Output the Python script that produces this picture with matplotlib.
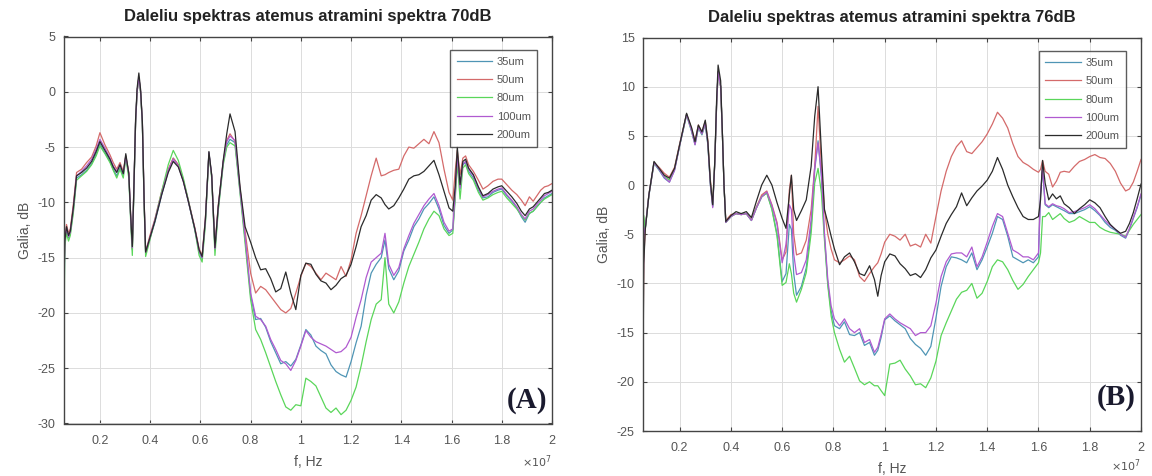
import matplotlib
matplotlib.use("Agg")
import matplotlib.pyplot as plt
from matplotlib.ticker import MultipleLocator, FuncFormatter

plt.rcParams["font.family"] = ["Liberation Sans", "DejaVu Sans"]
plt.rcParams["axes.unicode_minus"] = False

labels = ["35um", "50um", "80um", "100um", "200um"]
colors = ["#4f95b5", "#d46a6a", "#5ad65a", "#b05ad0", "#2b2b2b"]

# ---------------- panel A: 70 dB (frequency in units of 1e7 Hz) ----------------
freq_a = [
    0.055, 0.060, 0.067, 0.075, 0.082, 0.094, 0.107, 0.127, 0.147, 0.167,
    0.185, 0.200, 0.220, 0.240, 0.253, 0.267, 0.280, 0.293, 0.303, 0.315,
    0.322, 0.329, 0.336, 0.342, 0.348, 0.355, 0.362, 0.369, 0.376, 0.382,
    0.399, 0.419, 0.446, 0.472, 0.492, 0.512, 0.532, 0.552, 0.578, 0.595,
    0.607, 0.620, 0.634, 0.645, 0.658, 0.671, 0.691, 0.705, 0.718, 0.738,
    0.758, 0.778, 0.800, 0.820, 0.840, 0.860, 0.880, 0.900, 0.920, 0.940,
    0.960, 0.980, 1.000, 1.020, 1.040, 1.060, 1.080, 1.100, 1.120, 1.140,
    1.160, 1.180, 1.200, 1.220, 1.240, 1.260, 1.280, 1.300, 1.320, 1.335,
    1.350, 1.370, 1.390, 1.410, 1.430, 1.450, 1.470, 1.490, 1.510, 1.530,
    1.550, 1.570, 1.590, 1.605, 1.615, 1.623, 1.634, 1.645, 1.656, 1.668,
    1.687, 1.707, 1.725, 1.745, 1.765, 1.785, 1.800, 1.820, 1.840, 1.860,
    1.878, 1.893, 1.910, 1.925, 1.940, 1.955, 1.970, 1.985, 2.000,
]

a_35 = [
    -25.0, -13.5, -12.5, -13.2, -12.8, -10.8, -7.8, -7.5, -7.1, -6.5,
    -5.6, -4.7, -5.5, -6.3, -7.0, -7.6, -6.9, -7.6, -5.8, -7.5,
    -11.2, -14.3, -8.1, -2.8, 0.0, 1.3, 0.0, -2.9, -10.0, -14.6,
    -13.3, -11.8, -9.3, -7.2, -6.0, -6.6, -8.0, -9.9, -12.5, -14.5,
    -15.1, -11.7, -5.5, -7.6, -14.3, -10.6, -6.4, -4.8, -4.3, -4.6,
    -9.0, -13.3, -18.4, -20.6, -20.5, -21.3, -22.6, -23.6, -24.6, -24.4,
    -24.8, -24.2, -22.9, -21.5, -22.0, -23.0, -23.4, -23.7, -24.7, -25.3,
    -25.6, -25.8, -24.4, -22.7, -21.2, -18.4, -16.4, -15.6, -15.0, -13.4,
    -16.0, -17.0, -16.2, -14.4, -13.4, -12.2, -11.5, -10.6, -10.1, -9.5,
    -10.6, -12.1, -12.8, -12.5, -9.2, -6.0, -8.8, -6.6, -6.4, -7.2,
    -7.8, -8.9, -9.6, -9.5, -9.1, -8.9, -8.8, -9.4, -9.9, -10.5,
    -11.3, -11.8, -11.0, -10.8, -10.4, -10.0, -9.6, -9.4, -9.2,
]
a_50 = [
    -20.0, -13.3, -12.0, -12.8, -12.4, -10.2, -7.3, -7.0, -6.4, -5.9,
    -4.9, -3.7, -4.8, -5.7, -6.4, -7.0, -6.4, -7.2, -5.8, -7.3,
    -11.0, -14.2, -8.0, -2.8, 0.0, 1.3, 0.0, -2.8, -9.8, -14.5,
    -13.0, -11.5, -9.0, -7.0, -6.0, -6.6, -8.0, -9.8, -12.3, -14.2,
    -14.8, -11.4, -5.6, -7.6, -14.0, -10.3, -6.3, -4.4, -3.8, -4.5,
    -8.8, -12.6, -16.4, -18.2, -17.6, -17.9, -18.5, -19.1, -19.7, -20.0,
    -19.6, -18.2, -16.7, -15.5, -15.8, -16.4, -17.0, -16.4, -16.7, -17.0,
    -15.8, -16.7, -15.2, -12.8, -11.2, -9.4, -7.6, -6.0, -7.6, -7.5,
    -7.3, -7.1, -7.0, -5.8, -5.0, -5.1, -4.7, -4.3, -4.7, -3.6,
    -4.6, -7.0, -9.1, -9.8, -7.1, -5.3, -7.5, -6.0, -5.8, -6.6,
    -7.2, -8.0, -8.8, -8.5, -8.1, -7.9, -7.9, -8.4, -8.9, -9.3,
    -9.8, -10.3, -9.5, -9.9, -9.4, -8.9, -8.6, -8.5, -8.3,
]
a_80 = [
    -27.5, -14.0, -12.8, -13.5, -13.0, -11.0, -8.0, -7.6, -7.2, -6.6,
    -5.8, -4.9, -5.6, -6.4, -7.1, -7.8, -7.0, -7.8, -6.0, -7.8,
    -11.5, -14.8, -8.3, -2.9, 0.0, 1.2, -0.1, -3.0, -10.2, -14.9,
    -13.4, -11.6, -9.0, -6.6, -5.3, -6.2, -7.8, -9.8, -12.5, -14.8,
    -15.4, -12.0, -5.6, -7.8, -14.8, -10.8, -6.6, -5.0, -4.6, -4.9,
    -9.2, -13.7, -18.8, -21.5, -22.4, -23.6, -24.9, -26.2, -27.4, -28.5,
    -28.8, -28.3, -28.4, -25.9, -26.2, -26.6, -27.6, -28.6, -29.0, -28.6,
    -29.2, -28.8, -27.9, -26.7, -24.8, -22.6, -20.6, -19.2, -18.8, -15.0,
    -19.2, -20.0, -19.0, -17.3, -15.8, -14.7, -13.6, -12.4, -11.5, -10.8,
    -11.2, -12.4, -13.0, -12.8, -9.6, -6.4, -9.7, -6.9, -6.6, -7.4,
    -8.0, -9.1, -9.8, -9.6, -9.3, -9.1, -9.0, -9.6, -10.1, -10.6,
    -11.2, -11.6, -11.0, -10.8, -10.4, -10.0, -9.7, -9.5, -9.3,
]
a_100 = [
    -22.0, -13.4, -12.3, -13.1, -12.7, -10.6, -7.6, -7.2, -6.7, -6.1,
    -5.2, -4.3, -5.1, -6.0, -6.7, -7.2, -6.6, -7.4, -5.9, -7.4,
    -11.1, -14.1, -8.1, -2.8, 0.0, 1.3, 0.0, -2.8, -9.9, -14.5,
    -13.2, -11.6, -9.2, -7.1, -6.1, -6.7, -8.1, -9.9, -12.4, -14.4,
    -15.0, -11.6, -5.5, -7.6, -14.2, -10.5, -6.3, -4.5, -4.0, -4.4,
    -8.9, -13.1, -18.2, -20.3, -20.6, -21.2, -22.4, -23.3, -24.3, -24.6,
    -25.2, -24.3, -23.0, -21.6, -22.2, -22.6, -22.8, -23.0, -23.3, -23.6,
    -23.5, -23.1, -22.2, -20.4, -18.8, -16.8, -15.4, -15.0, -14.6, -12.8,
    -15.6, -16.6, -15.9, -14.2, -13.0, -11.9, -11.1, -10.3, -9.7, -9.2,
    -10.3, -11.8, -12.6, -12.4, -9.0, -5.8, -8.7, -6.5, -6.3, -7.0,
    -7.6, -8.7, -9.5, -9.3, -9.0, -8.8, -8.7, -9.3, -9.8, -10.4,
    -11.1, -11.5, -10.8, -10.6, -10.2, -9.8, -9.4, -9.2, -9.0,
]
a_200 = [
    -20.0, -13.5, -12.2, -13.0, -12.6, -10.5, -7.6, -7.3, -6.9, -6.3,
    -5.4, -4.5, -5.3, -6.1, -6.8, -7.3, -6.6, -7.4, -5.6, -7.4,
    -11.0, -14.0, -8.0, -2.5, 0.3, 1.7, 0.2, -2.7, -9.8, -14.5,
    -13.2, -11.7, -9.3, -7.3, -6.3, -6.8, -8.1, -9.9, -12.4, -14.3,
    -14.9, -11.5, -5.4, -7.5, -14.1, -10.4, -6.2, -3.8, -2.0, -3.6,
    -8.6, -12.2, -13.6, -15.0, -16.1, -16.0, -16.9, -18.1, -17.8, -16.3,
    -18.2, -19.7, -16.6, -15.5, -15.6, -16.5, -17.1, -17.3, -17.9, -17.5,
    -16.9, -16.6, -15.6, -14.0, -12.2, -11.2, -9.8, -9.3, -9.6, -10.2,
    -10.6, -10.3, -9.6, -8.8, -7.9, -7.6, -7.5, -7.2, -6.7, -6.2,
    -7.5, -9.0, -10.5, -10.8, -8.5, -5.0, -8.4, -6.3, -6.1, -6.9,
    -7.5, -8.6, -9.4, -9.2, -8.8, -8.6, -8.5, -9.0, -9.5, -10.1,
    -10.8, -11.2, -10.6, -10.4, -10.0, -9.6, -9.2, -9.1, -8.9,
]

# ---------------- panel B: 76 dB ----------------
freq_b = [
    0.057, 0.060, 0.066, 0.080, 0.100, 0.120, 0.140, 0.160, 0.180, 0.200,
    0.227, 0.247, 0.260, 0.273, 0.287, 0.300, 0.310, 0.320, 0.329, 0.337,
    0.344, 0.350, 0.360, 0.367, 0.373, 0.380, 0.400, 0.420, 0.440, 0.460,
    0.480, 0.500, 0.520, 0.540, 0.560, 0.580, 0.600, 0.615, 0.628, 0.636,
    0.645, 0.656, 0.675, 0.694, 0.713, 0.727, 0.740, 0.753, 0.765, 0.778,
    0.791, 0.804, 0.824, 0.843, 0.863, 0.882, 0.902, 0.921, 0.941, 0.960,
    0.973, 0.986, 1.000, 1.020, 1.040, 1.060, 1.080, 1.100, 1.120, 1.140,
    1.160, 1.180, 1.200, 1.220, 1.240, 1.260, 1.280, 1.300, 1.320, 1.340,
    1.360, 1.380, 1.400, 1.420, 1.440, 1.460, 1.480, 1.500, 1.520, 1.540,
    1.560, 1.580, 1.600, 1.608, 1.616, 1.626, 1.640, 1.655, 1.670, 1.685,
    1.700, 1.720, 1.740, 1.760, 1.780, 1.800, 1.820, 1.840, 1.860, 1.880,
    1.900, 1.920, 1.940, 1.955, 1.970, 1.985, 2.000,
]

b_35 = [
    -12.0, -4.0, -4.4, -1.1, 2.2, 1.5, 0.7, 0.3, 1.5, 4.0,
    7.1, 5.4, 4.1, 5.8, 5.1, 6.2, 4.1, 0.0, -2.2, 2.2,
    8.0, 11.5, 10.0, 5.0, 0.0, -3.8, -3.2, -2.9, -3.0, -2.9,
    -3.6, -2.3, -1.2, -0.8, -2.4, -5.0, -9.8, -9.0, -4.0, -4.5,
    -9.0, -11.2, -10.3, -8.4, -4.2, 1.5, 4.5, 0.8, -5.2, -10.0,
    -12.8, -14.3, -14.6, -13.9, -15.2, -15.3, -15.0, -16.3, -16.0, -17.3,
    -16.8, -15.5, -13.7, -13.3, -13.8, -14.2, -14.6, -15.6, -16.2, -16.6,
    -17.3, -16.4, -13.5, -10.3, -8.3, -7.3, -7.4, -7.6, -7.9, -6.9,
    -8.6, -7.6, -6.3, -4.9, -3.2, -3.5, -5.2, -7.3, -7.6, -7.9,
    -7.6, -7.9, -7.3, -1.0, 1.5, -2.0, -2.3, -2.0, -2.2, -2.4,
    -2.6, -2.9, -2.9, -2.7, -2.5, -2.2, -2.6, -3.1, -3.8, -4.3,
    -4.6, -5.1, -5.4, -4.5, -3.4, -2.3, -1.0,
]
b_50 = [
    -17.0, -7.5, -4.3, -1.0, 2.3, 1.8, 1.2, 0.8, 1.8, 4.2,
    7.2, 5.7, 4.5, 6.1, 5.4, 6.5, 4.6, 0.5, -1.8, 2.2,
    8.0, 11.5, 10.0, 5.0, 0.0, -3.6, -3.0, -2.9, -3.0, -2.9,
    -3.5, -2.2, -1.0, -0.6, -2.0, -3.8, -7.6, -6.8, -0.5, 1.0,
    -5.0, -7.1, -6.9, -5.6, -2.5, 1.9, 8.0, 1.9, -2.5, -5.0,
    -6.5, -7.6, -7.9, -7.6, -7.2, -7.6, -9.3, -9.8, -9.0, -8.3,
    -7.9, -7.0, -5.8, -5.0, -5.2, -5.6, -5.0, -6.2, -6.0, -6.3,
    -5.0, -5.9, -3.2, -0.6, 1.4, 2.9, 3.9, 4.5, 3.4, 3.2,
    3.8, 4.4, 5.2, 6.2, 7.4, 6.8, 5.8, 4.2, 2.9, 2.3,
    2.0, 1.6, 1.3, 1.6, 2.5, 1.4, 1.1, -0.2, 0.4, 1.3,
    1.4, 1.3, 1.9, 2.4, 2.6, 2.9, 3.1, 2.8, 2.7, 2.2,
    1.4, 0.2, -0.6, -0.4, 0.3, 1.4, 2.6,
]
b_80 = [
    -7.0, -3.1, -4.4, -1.0, 2.3, 1.6, 0.9, 0.5, 1.6, 4.0,
    7.2, 5.5, 4.2, 5.9, 5.2, 6.3, 4.2, 0.1, -2.1, 2.3,
    8.0, 11.5, 10.0, 5.0, 0.0, -3.8, -3.2, -2.9, -3.0, -2.9,
    -3.6, -2.3, -1.2, -0.8, -2.5, -5.2, -10.2, -9.9, -8.0, -9.0,
    -11.0, -11.9, -10.6, -8.9, -4.9, 0.2, 1.7, -0.8, -5.6, -10.2,
    -13.3, -15.0, -16.7, -18.0, -17.4, -18.6, -19.9, -20.3, -20.0, -20.4,
    -20.4, -20.9, -21.4, -18.2, -18.1, -17.8, -18.7, -19.4, -20.3, -20.2,
    -20.6, -19.6, -17.9, -15.3, -14.0, -12.8, -11.6, -10.9, -10.7, -10.0,
    -11.5, -11.0, -9.8, -8.3, -7.6, -7.8, -8.6, -9.7, -10.6, -10.1,
    -9.3, -8.6, -7.9, -6.9, -3.2, -3.2, -2.8, -3.5, -3.2, -2.9,
    -3.4, -3.8, -3.6, -3.2, -3.5, -3.8, -3.8, -4.3, -4.6, -4.8,
    -4.9, -5.0, -5.2, -4.6, -4.0, -3.5, -3.0,
]
b_100 = [
    -14.0, -5.0, -4.3, -1.0, 2.3, 1.6, 0.8, 0.3, 1.5, 4.0,
    7.2, 5.5, 4.1, 5.9, 5.2, 6.3, 4.2, 0.0, -2.3, 2.2,
    8.0, 11.5, 10.0, 5.0, 0.0, -3.8, -3.2, -2.9, -3.0, -2.9,
    -3.6, -2.3, -1.2, -0.7, -2.1, -4.0, -7.9, -6.0, -2.0, -2.5,
    -7.0, -9.1, -8.9, -7.6, -3.5, 1.9, 4.3, 1.2, -4.9, -9.6,
    -12.3, -13.6, -14.3, -13.6, -14.6, -15.0, -14.6, -16.0, -15.7, -17.0,
    -16.5, -15.2, -13.6, -13.1, -13.6, -14.0, -14.3, -14.6, -15.3, -15.0,
    -15.0, -14.3, -12.0, -9.3, -7.8, -7.0, -6.9, -6.9, -7.3, -6.3,
    -8.3, -7.3, -5.8, -4.2, -2.9, -3.2, -4.9, -6.6, -6.9, -7.3,
    -7.3, -7.6, -6.9, -0.8, 1.8, -1.9, -2.2, -1.9, -2.1, -2.2,
    -2.4, -2.8, -2.7, -2.5, -2.3, -2.0, -2.4, -3.0, -3.6, -4.1,
    -4.5, -5.0, -5.3, -4.4, -3.3, -2.2, -0.9,
]
b_200 = [
    -19.0, -8.0, -4.5, -1.0, 2.4, 1.7, 1.0, 0.7, 1.7, 4.1,
    7.3, 5.8, 4.4, 6.1, 5.4, 6.6, 4.4, 0.3, -2.0, 2.4,
    8.5, 12.2, 10.6, 5.1, 0.0, -3.7, -3.1, -2.7, -2.9, -2.7,
    -3.3, -1.6, 0.0, 1.0, 0.0, -1.8, -3.4, -4.4, -1.0, 1.0,
    -2.5, -3.6, -2.6, -1.5, 1.9, 7.0, 10.0, 3.4, -2.5, -3.8,
    -5.2, -6.5, -8.1, -7.3, -6.9, -7.8, -9.0, -9.2, -8.2, -9.6,
    -11.3, -9.2, -7.8, -7.0, -7.2, -8.0, -8.5, -9.2, -9.0, -9.4,
    -8.6, -7.4, -6.6, -5.2, -3.9, -3.0, -2.2, -0.8, -2.1, -1.3,
    -0.6, -0.1, 0.5, 1.4, 2.8, 1.6, 0.0, -1.2, -2.3, -3.2,
    -3.5, -3.5, -3.2, -1.5, 2.5, 0.2, -1.5, -0.9, -1.4, -1.1,
    -1.9, -2.3, -2.9, -2.4, -2.0, -1.5, -1.8, -2.3, -3.2, -4.0,
    -4.5, -4.9, -4.7, -3.9, -2.8, -1.4, 0.1,
]

panels = [
    dict(freq=freq_a, series=[a_35, a_50, a_80, a_100, a_200],
         title="Daleliu spektras atemus atramini spektra 70dB",
         ylim=(-30, 5), xmin=0.055, tag="(A)", tag_y=0.06, exp_y=-0.098,
         rect=[63.5 / 1152, 1 - 423.5 / 476, 488.5 / 1152, 387 / 476]),
    dict(freq=freq_b, series=[b_35, b_50, b_80, b_100, b_200],
         title="Daleliu spektras atemus atramini spektra 76dB",
         ylim=(-25, 15), xmin=0.057, tag="(B)", tag_y=0.085, exp_y=-0.088,
         rect=[643 / 1152, 1 - 431 / 476, 498 / 1152, 393.5 / 476]),
]

fig = plt.figure(figsize=(11.52, 4.76), dpi=100)
text_gray = "#555555"

for p in panels:
    ax = fig.add_axes(p["rect"])
    hz = [f * 1e7 for f in p["freq"]]
    for vals, lab, col in zip(p["series"], labels, colors):
        ax.plot(hz, vals, color=col, lw=0.9, label=lab)
    ax.set_xlim(p["xmin"] * 1e7, 2e7)
    ax.set_ylim(*p["ylim"])
    ax.xaxis.set_major_locator(MultipleLocator(2e6))
    ax.yaxis.set_major_locator(MultipleLocator(5))
    ax.xaxis.set_major_formatter(FuncFormatter(lambda v, pos: "%g" % round(v / 1e7, 2)))
    ax.grid(True, color="#dcdcdc", lw=0.7)
    ax.set_axisbelow(True)
    ax.tick_params(axis="both", direction="in", length=3, top=True, right=True,
                   labelsize=9, labelcolor=text_gray, color="#444444")
    ax.tick_params(axis="x", pad=8)
    ax.tick_params(axis="y", pad=6)
    for sp in ax.spines.values():
        sp.set_color("#444444")
        sp.set_linewidth(1.0)
    ax.set_title(p["title"], fontsize=12, fontweight="bold", color="#222222", pad=11)
    ax.set_xlabel("f, Hz", fontsize=10, color=text_gray, labelpad=6)
    ax.set_ylabel("Galia, dB", fontsize=10, color=text_gray, labelpad=4)
    ax.text(1.0, p["exp_y"], r"$\times10^{7}$", transform=ax.transAxes, ha="right",
            va="center", fontsize=8, color=text_gray)
    leg = ax.legend(loc="upper right", bbox_to_anchor=(0.97, 0.965),
                    borderaxespad=0, fontsize=8, frameon=True, fancybox=False,
                    handlelength=3.2, labelspacing=0.75, borderpad=0.6,
                    handletextpad=0.4)
    leg.get_frame().set_edgecolor("#333333")
    leg.get_frame().set_linewidth(1.0)
    for t in leg.get_texts():
        t.set_color(text_gray)
    ax.text(0.99, p["tag_y"], p["tag"], transform=ax.transAxes, ha="right",
            va="center", fontsize=21, fontweight="bold",
            family=["Liberation Serif", "DejaVu Serif"], color="#1a1a2e")

fig.savefig("out.png", dpi=100)
